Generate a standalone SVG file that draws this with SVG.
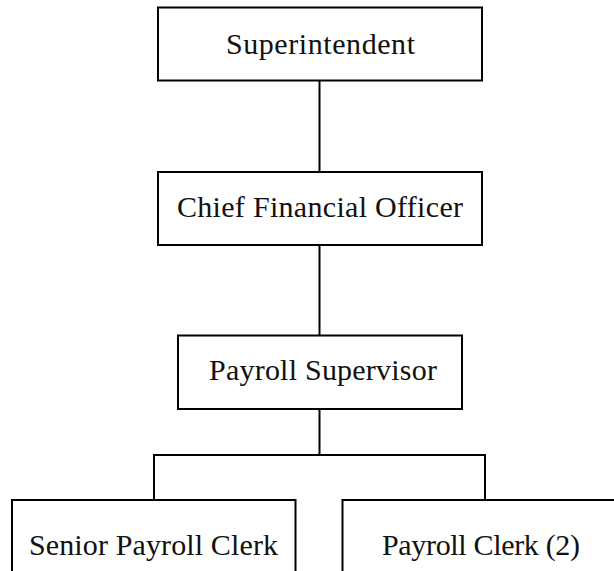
<svg xmlns="http://www.w3.org/2000/svg" width="614" height="571" viewBox="0 0 614 571">
  <style>
    .box { fill: #ffffff; stroke: #000000; stroke-width: 2; }
    .lbl { font-family: "Liberation Serif", "Times New Roman", serif; font-size: 30px; fill: #111111; text-anchor: middle; }
    .wire { fill: none; stroke: #000000; stroke-width: 2; }
  </style>
  <rect width="614" height="571" fill="#ffffff"/>

  <!-- reporting lines -->
  <g id="connectors">
    <line class="wire" x1="319.5" y1="80.5" x2="319.5" y2="172"/>
    <line class="wire" x1="319.5" y1="245" x2="319.5" y2="335.5"/>
    <line class="wire" x1="319.5" y1="409" x2="319.5" y2="455"/>
    <line class="wire" x1="153" y1="455" x2="486" y2="455"/>
    <line class="wire" x1="154" y1="454" x2="154" y2="500"/>
    <line class="wire" x1="485" y1="454" x2="485" y2="500"/>
  </g>

  <g id="superintendent">
    <rect class="box" x="158" y="7.5" width="324" height="73"/>
    <text class="lbl" x="320.5" y="54" textLength="189" lengthAdjust="spacing">Superintendent</text>
  </g>

  <g id="cfo">
    <rect class="box" x="158" y="172" width="324" height="73"/>
    <text class="lbl" x="320" y="217" textLength="286" lengthAdjust="spacing">Chief Financial Officer</text>
  </g>

  <g id="payroll-supervisor">
    <rect class="box" x="178" y="335.5" width="284" height="73.5"/>
    <text class="lbl" x="323" y="380" textLength="228" lengthAdjust="spacing">Payroll Supervisor</text>
  </g>

  <g id="senior-payroll-clerk">
    <rect class="box" x="12" y="500" width="283.5" height="90"/>
    <text class="lbl" x="153.5" y="555" textLength="249" lengthAdjust="spacing">Senior Payroll Clerk</text>
  </g>

  <g id="payroll-clerk">
    <rect class="box" x="342.5" y="500" width="290" height="90"/>
    <text class="lbl" x="481" y="555" textLength="198" lengthAdjust="spacing">Payroll Clerk (2)</text>
  </g>
</svg>
